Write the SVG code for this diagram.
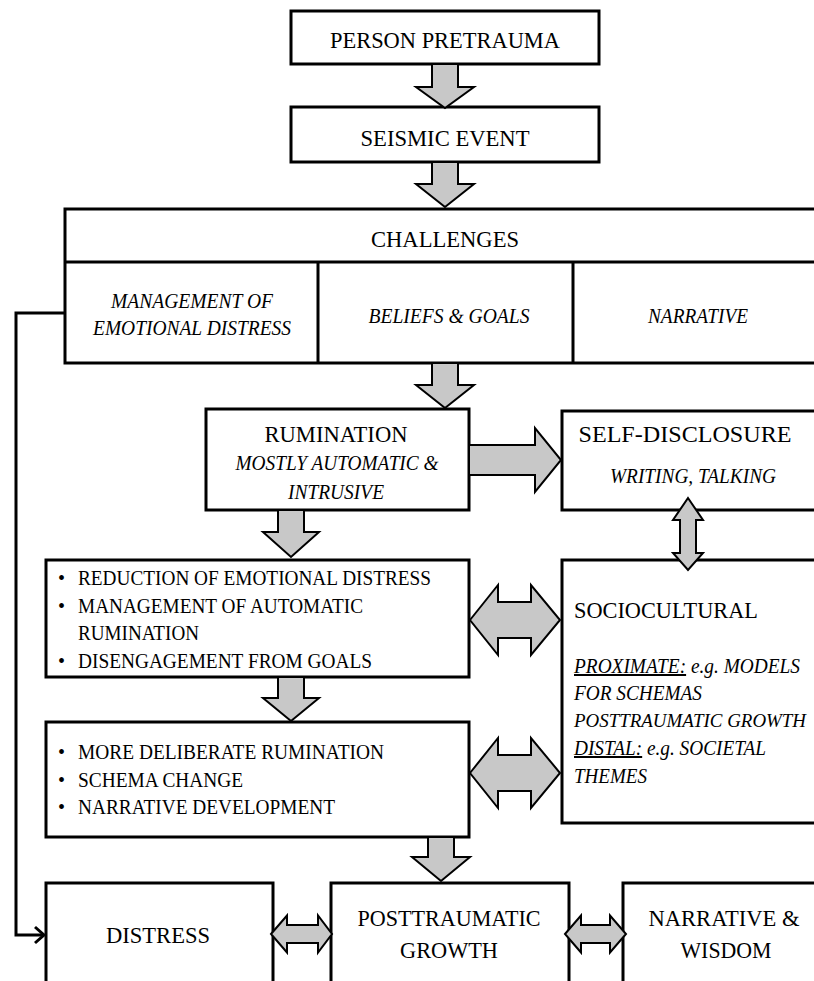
<svg xmlns="http://www.w3.org/2000/svg" width="814" height="981" viewBox="0 0 814 981">
<style>
.box{fill:#fff;stroke:#000;stroke-width:3}
.div{fill:none;stroke:#000;stroke-width:3}
.arr{fill:#c8c8c8;stroke:#000;stroke-width:2;stroke-linejoin:miter}
text{font-family:"Liberation Serif","Times New Roman",serif;fill:#000}
.t{font-size:24px;text-anchor:middle}
.s{font-size:20px}
.sc{font-size:20px;text-anchor:middle}
.i{font-style:italic}
.fb{fill:none;stroke:#000;stroke-width:3}
</style>
<rect width="814" height="981" fill="#fff"/>
<g id="person">
<rect class="box" x="291" y="11" width="308" height="53"/>
<text class="t" x="445" y="48" textLength="230" lengthAdjust="spacingAndGlyphs">PERSON PRETRAUMA</text>
</g>
<g id="seismic">
<rect class="box" x="291" y="107" width="308" height="55"/>
<text class="t" x="445" y="146" textLength="169" lengthAdjust="spacingAndGlyphs">SEISMIC EVENT</text>
</g>
<g id="challenges">
<rect class="box" x="65" y="209" width="770" height="154"/>
<path class="div" d="M65 262H835M318 262V363M573 262V363"/>
<text class="t" x="445" y="247" textLength="148" lengthAdjust="spacingAndGlyphs">CHALLENGES</text>
<text class="sc i" x="192" y="308" textLength="162" lengthAdjust="spacingAndGlyphs">MANAGEMENT OF</text>
<text class="sc i" x="192" y="335" textLength="198" lengthAdjust="spacingAndGlyphs">EMOTIONAL DISTRESS</text>
<text class="sc i" x="449" y="323" textLength="161" lengthAdjust="spacingAndGlyphs">BELIEFS &amp; GOALS</text>
<text class="sc i" x="698" y="323" textLength="100" lengthAdjust="spacingAndGlyphs">NARRATIVE</text>
</g>
<g id="rumination">
<rect class="box" x="206" y="409" width="263" height="101"/>
<text class="t" x="336" y="442" textLength="143" lengthAdjust="spacingAndGlyphs">RUMINATION</text>
<text class="sc i" x="337" y="470" textLength="203" lengthAdjust="spacingAndGlyphs">MOSTLY AUTOMATIC &amp;</text>
<text class="sc i" x="336" y="499" textLength="96" lengthAdjust="spacingAndGlyphs">INTRUSIVE</text>
</g>
<g id="selfdisclosure">
<rect class="box" x="562" y="411" width="270" height="99"/>
<text class="t" x="685" y="442" textLength="213" lengthAdjust="spacingAndGlyphs">SELF-DISCLOSURE</text>
<text class="sc i" x="693" y="483" textLength="166" lengthAdjust="spacingAndGlyphs">WRITING, TALKING</text>
</g>
<g id="coping">
<rect class="box" x="46" y="560" width="423" height="117"/>
<text class="s" x="58" y="585">•</text>
<text class="s" x="78" y="585" textLength="353" lengthAdjust="spacingAndGlyphs">REDUCTION OF EMOTIONAL DISTRESS</text>
<text class="s" x="58" y="613">•</text>
<text class="s" x="78" y="613" textLength="285" lengthAdjust="spacingAndGlyphs">MANAGEMENT OF AUTOMATIC</text>
<text class="s" x="78" y="640" textLength="121" lengthAdjust="spacingAndGlyphs">RUMINATION</text>
<text class="s" x="58" y="668">•</text>
<text class="s" x="78" y="668" textLength="294" lengthAdjust="spacingAndGlyphs">DISENGAGEMENT FROM GOALS</text>
</g>
<g id="sociocultural">
<rect class="box" x="562" y="560" width="270" height="263"/>
<text font-size="24px" x="574" y="618" textLength="184" lengthAdjust="spacingAndGlyphs">SOCIOCULTURAL</text>
<text class="s i" x="574" y="673" textLength="226" lengthAdjust="spacingAndGlyphs"><tspan text-decoration="underline">PROXIMATE:</tspan> e.g. MODELS</text>
<text class="s i" x="574" y="700" textLength="128" lengthAdjust="spacingAndGlyphs">FOR SCHEMAS</text>
<text class="i" font-size="19px" x="574" y="727" textLength="232" lengthAdjust="spacingAndGlyphs">POSTTRAUMATIC GROWTH</text>
<text class="s i" x="574" y="755" textLength="192" lengthAdjust="spacingAndGlyphs"><tspan text-decoration="underline">DISTAL:</tspan> e.g. SOCIETAL</text>
<text class="s i" x="574" y="783" textLength="73" lengthAdjust="spacingAndGlyphs">THEMES</text>
</g>
<g id="deliberate">
<rect class="box" x="46" y="722" width="423" height="115"/>
<text class="s" x="58" y="759">•</text>
<text class="s" x="78" y="759" textLength="306" lengthAdjust="spacingAndGlyphs">MORE DELIBERATE RUMINATION</text>
<text class="s" x="58" y="787">•</text>
<text class="s" x="78" y="787" textLength="165" lengthAdjust="spacingAndGlyphs">SCHEMA CHANGE</text>
<text class="s" x="58" y="814">•</text>
<text class="s" x="78" y="814" textLength="257" lengthAdjust="spacingAndGlyphs">NARRATIVE DEVELOPMENT</text>
</g>
<g id="distress">
<rect class="box" x="46" y="883" width="227" height="110"/>
<text class="t" x="158" y="943" textLength="104" lengthAdjust="spacingAndGlyphs">DISTRESS</text>
</g>
<g id="ptg">
<rect class="box" x="331" y="883" width="238" height="110"/>
<text class="t" x="449" y="926" textLength="183" lengthAdjust="spacingAndGlyphs">POSTTRAUMATIC</text>
<text class="t" x="449" y="958" textLength="98" lengthAdjust="spacingAndGlyphs">GROWTH</text>
</g>
<g id="wisdom">
<rect class="box" x="623" y="883" width="210" height="110"/>
<text class="t" x="724" y="926" textLength="151" lengthAdjust="spacingAndGlyphs">NARRATIVE &amp;</text>
<text class="t" x="726" y="958" textLength="91" lengthAdjust="spacingAndGlyphs">WISDOM</text>
</g>
<g id="connectors">
<polygon class="arr" points="432,64 458,64 458,87 474,87 445,108 416,87 432,87"/>
<polygon class="arr" points="432,162 458,162 458,184 474,184 445,207 416,184 432,184"/>
<polygon class="arr" points="432,363 458,363 458,385 474,385 445,408 416,385 432,385"/>
<polygon class="arr" points="278,510 304,510 304,532 319,532 291,557 263,532 278,532"/>
<polygon class="arr" points="278,677 304,677 304,698 319,698 291,721 263,698 278,698"/>
<polygon class="arr" points="428,837 454,837 454,857 470,857 441,881 412,857 428,857"/>
<polygon class="arr" points="469,445 535,445 535,428 561,460 535,492 535,475 469,475"/>
<polygon class="arr" points="470,620 498,585 498,602 531,602 531,585 560,620 531,655 531,638 498,638 498,655"/>
<polygon class="arr" points="470,773 498,738 498,755 531,755 531,738 560,773 531,808 531,791 498,791 498,808"/>
<polygon class="arr" points="688,498 703,520 696,520 696,553 703,553 688,570 673,553 680,553 680,520 673,520"/>
<polygon class="arr" points="271,934 287,915.5 287,925 318,925 318,915.5 332,934 318,952.5 318,943 287,943 287,952.5"/>
<polygon class="arr" points="565,934 581,915.5 581,925 610,925 610,915.5 626,934 610,952.5 610,943 581,943 581,952.5"/>
<path class="fb" d="M65 313H16V935H44"/>
<path class="fb" d="M35 927L44 935L35 943"/>
</g>
</svg>
